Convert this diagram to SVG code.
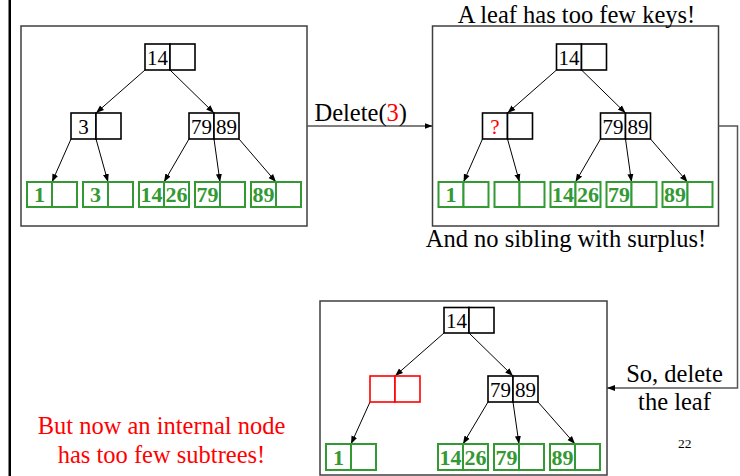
<svg xmlns="http://www.w3.org/2000/svg" width="740" height="476" viewBox="0 0 740 476">
<defs>
<marker id="ah" markerUnits="userSpaceOnUse" markerWidth="8" markerHeight="8" viewBox="0 0 8 8" refX="8" refY="4" orient="auto">
<path d="M0,1 L8,4 L0,7 z" fill="#000"/>
</marker>
</defs>
<style>
.panel{fill:#fff;stroke:#3f3f3f;stroke-width:1.5}
.cell{fill:#fff;stroke:#000;stroke-width:1.6}
.rcell{fill:#fff;stroke:#ff0000;stroke-width:1.6}
.leaf{fill:#fff;stroke:#339933;stroke-width:2}
.edge{stroke:#000;stroke-width:1;fill:none;marker-end:url(#ah)}
.conn{stroke:#555;stroke-width:1.5;fill:none;marker-end:url(#ah)}
text{font-family:"Liberation Serif","Times New Roman",serif}
.nt{font-size:21px;fill:#000;text-anchor:middle}
.lt{font-size:22px;font-weight:bold;fill:#339933;text-anchor:middle}
.big{font-size:24.5px;fill:#000;text-anchor:middle}
</style>
<rect x="8.5" y="0" width="2.5" height="476" fill="#000"/>

<!-- Panel 1 -->
<g id="panel1">
<rect class="panel" x="21" y="26" width="286" height="200"/>
<g id="p1-edges">
<path class="edge" d="M145,70 L96,113"/>
<path class="edge" d="M170,70 L214,113"/>
<path class="edge" d="M71,139 L52,182"/>
<path class="edge" d="M96,139 L108,182"/>
<path class="edge" d="M189,139 L164,182"/>
<path class="edge" d="M214,139 L220,182"/>
<path class="edge" d="M239,139 L276,182"/>
</g>
<g id="p1-root"><rect class="cell" x="145" y="44" width="25" height="26"/><rect class="cell" x="170" y="44" width="25" height="26"/><text class="nt" x="157.5" y="65">14</text></g>
<g id="p1-n3"><rect class="cell" x="71" y="113" width="25" height="26"/><rect class="cell" x="96" y="113" width="25" height="26"/><text class="nt" x="83.5" y="134">3</text></g>
<g id="p1-n7989"><rect class="cell" x="189" y="113" width="25" height="26"/><rect class="cell" x="214" y="113" width="25" height="26"/><text class="nt" x="201.5" y="134">79</text><text class="nt" x="226.5" y="134">89</text></g>
<g id="p1-l1"><rect class="leaf" x="27" y="182" width="25" height="25"/><rect class="leaf" x="52" y="182" width="25" height="25"/><text class="lt" x="39.5" y="202">1</text></g>
<g id="p1-l3"><rect class="leaf" x="83" y="182" width="25" height="25"/><rect class="leaf" x="108" y="182" width="25" height="25"/><text class="lt" x="95.5" y="202">3</text></g>
<g id="p1-l1426"><rect class="leaf" x="139" y="182" width="25" height="25"/><rect class="leaf" x="164" y="182" width="25" height="25"/><text class="lt" x="151.5" y="202">14</text><text class="lt" x="176.5" y="202">26</text></g>
<g id="p1-l79"><rect class="leaf" x="195" y="182" width="25" height="25"/><rect class="leaf" x="220" y="182" width="25" height="25"/><text class="lt" x="207.5" y="202">79</text></g>
<g id="p1-l89"><rect class="leaf" x="251" y="182" width="25" height="25"/><rect class="leaf" x="276" y="182" width="25" height="25"/><text class="lt" x="263.5" y="202">89</text></g>
</g>

<!-- Panel 2 -->
<g id="panel2" transform="translate(411.5,0)">
<rect class="panel" x="21" y="26" width="286" height="200"/>
<g id="p2-edges">
<path class="edge" d="M145,70 L96,113"/>
<path class="edge" d="M170,70 L214,113"/>
<path class="edge" d="M71,139 L52,182"/>
<path class="edge" d="M96,139 L108,182"/>
<path class="edge" d="M189,139 L164,182"/>
<path class="edge" d="M214,139 L220,182"/>
<path class="edge" d="M239,139 L276,182"/>
</g>
<g id="p2-root"><rect class="cell" x="145" y="44" width="25" height="26"/><rect class="cell" x="170" y="44" width="25" height="26"/><text class="nt" x="157.5" y="65">14</text></g>
<g id="p2-nq"><rect class="cell" x="71" y="113" width="25" height="26"/><rect class="cell" x="96" y="113" width="25" height="26"/><text class="nt" x="83.5" y="134" style="fill:#ff0000">?</text></g>
<g id="p2-n7989"><rect class="cell" x="189" y="113" width="25" height="26"/><rect class="cell" x="214" y="113" width="25" height="26"/><text class="nt" x="201.5" y="134">79</text><text class="nt" x="226.5" y="134">89</text></g>
<g id="p2-l1"><rect class="leaf" x="27" y="182" width="25" height="25"/><rect class="leaf" x="52" y="182" width="25" height="25"/><text class="lt" x="39.5" y="202">1</text></g>
<g id="p2-lempty"><rect class="leaf" x="83" y="182" width="25" height="25"/><rect class="leaf" x="108" y="182" width="25" height="25"/></g>
<g id="p2-l1426"><rect class="leaf" x="139" y="182" width="25" height="25"/><rect class="leaf" x="164" y="182" width="25" height="25"/><text class="lt" x="151.5" y="202">14</text><text class="lt" x="176.5" y="202">26</text></g>
<g id="p2-l79"><rect class="leaf" x="195" y="182" width="25" height="25"/><rect class="leaf" x="220" y="182" width="25" height="25"/><text class="lt" x="207.5" y="202">79</text></g>
<g id="p2-l89"><rect class="leaf" x="251" y="182" width="25" height="25"/><rect class="leaf" x="276" y="182" width="25" height="25"/><text class="lt" x="263.5" y="202">89</text></g>
</g>

<!-- Panel 3 -->
<rect class="panel" x="320" y="301" width="287" height="174"/>
<g id="panel3" transform="translate(299,263)">
<g id="p3-edges">
<path class="edge" d="M145,70 L96,113"/>
<path class="edge" d="M170,70 L214,113"/>
<path class="edge" d="M71,139 L52,181"/>
<path class="edge" d="M189,139 L164,181"/>
<path class="edge" d="M214,139 L220,181"/>
<path class="edge" d="M239,139 L276,181"/>
</g>
<g id="p3-root"><rect class="cell" x="145" y="44.5" width="25" height="25.5"/><rect class="cell" x="170" y="44.5" width="25" height="25.5"/><text class="nt" x="157.5" y="65">14</text></g>
<g id="p3-nempty"><rect class="rcell" x="71" y="113" width="25" height="26"/><rect class="rcell" x="96" y="113" width="25" height="26"/></g>
<g id="p3-n7989"><rect class="cell" x="189" y="113" width="25" height="26"/><rect class="cell" x="214" y="113" width="25" height="26"/><text class="nt" x="201.5" y="134">79</text><text class="nt" x="226.5" y="134">89</text></g>
<g id="p3-l1"><rect class="leaf" x="27" y="181" width="25" height="26"/><rect class="leaf" x="52" y="181" width="25" height="26"/><text class="lt" x="39.5" y="201.5">1</text></g>
<g id="p3-l1426"><rect class="leaf" x="139" y="181" width="25" height="26"/><rect class="leaf" x="164" y="181" width="25" height="26"/><text class="lt" x="151.5" y="201.5">14</text><text class="lt" x="176.5" y="201.5">26</text></g>
<g id="p3-l79"><rect class="leaf" x="195" y="181" width="25" height="26"/><rect class="leaf" x="220" y="181" width="25" height="26"/><text class="lt" x="207.5" y="201.5">79</text></g>
<g id="p3-l89"><rect class="leaf" x="251" y="181" width="25" height="26"/><rect class="leaf" x="276" y="181" width="25" height="26"/><text class="lt" x="263.5" y="201.5">89</text></g>
</g>

<!-- Connectors between panels -->
<g id="connectors">
<path class="conn" d="M307,126 L432.5,126"/>
<path class="conn" d="M718.5,126 L737.5,126 L737.5,388 L607,388"/>
</g>

<!-- Labels -->
<text x="314.5" y="121" style="font-size:24.5px;fill:#000">Delete(<tspan fill="#ff0000">3</tspan>)</text>
<text class="big" x="576.5" y="23">A leaf has too few keys!</text>
<text class="big" x="566" y="247">And no sibling with surplus!</text>
<text class="big" x="674.5" y="382">So, delete</text>
<text class="big" x="674.5" y="410">the leaf</text>
<text x="684.7" y="448" style="font-size:13.5px;fill:#000;text-anchor:middle">22</text>
<text class="big" x="161.5" y="434" style="fill:#ff0000">But now an internal node</text>
<text class="big" x="161.5" y="463" style="fill:#ff0000">has too few subtrees!</text>
</svg>
